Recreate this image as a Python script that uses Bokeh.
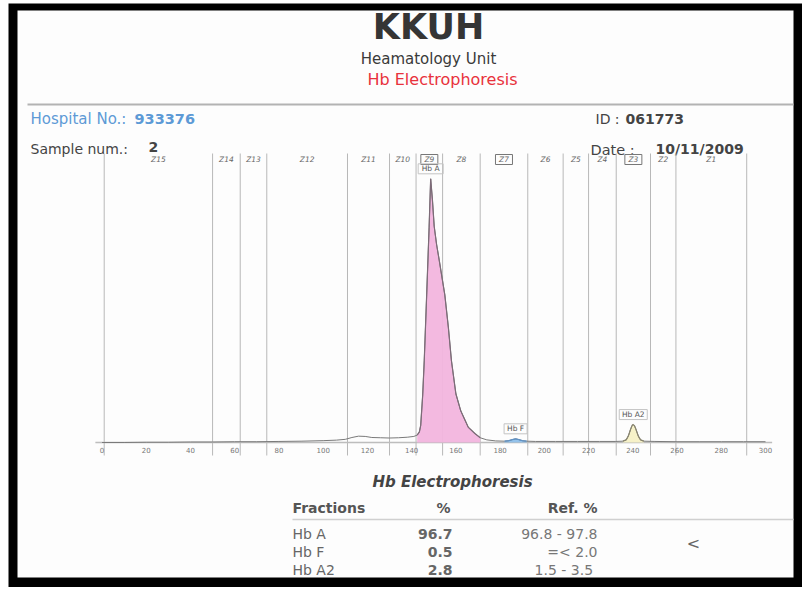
from bokeh.plotting import figure
from bokeh.models import Range1d
from bokeh.embed import file_html
from bokeh.resources import INLINE
from bokeh.core.properties import value

# ---------------- data ----------------
tick_values = list(range(0, 301, 20))
zone_edges = [1, 50, 62.5, 74.5, 111, 130, 142, 154, 171, 192.5, 208.5, 220, 232.5, 248, 259.5, 291.5]
zone_names = ["Z15", "Z14", "Z13", "Z12", "Z11", "Z10", "Z9", "Z8",
              "Z7", "Z6", "Z5", "Z4", "Z3", "Z2", "Z1"]
boxed_zones = ["Z9", "Z7", "Z3"]

trace_x = [0, 10, 20, 30, 40, 50, 60, 70, 80, 90, 100, 106, 110, 113, 116, 119, 122,
           126, 130, 134, 138, 141, 142.5, 143.5, 144.1, 145.0, 145.7, 146.8, 147.9,
           148.6, 149.4, 150.2, 151.3, 152.5, 155.0, 156.6, 158.0, 160.0, 162.2, 165.6,
           168.6, 171.0, 174, 178, 182, 184, 185.5, 187, 188.5, 190, 192, 196, 205, 215,
           225, 232, 235.5, 237, 238, 239, 239.7, 240.2, 240.8, 241.5, 242.5, 243.5, 245,
           250, 260, 270, 280, 290, 300]
trace_y = [0.0, 0.0, 0.1, 0.1, 0.2, 0.2, 0.3, 0.3, 0.4, 0.5, 0.7, 0.9, 1.2, 1.9, 2.4, 2.3, 1.9,
           1.8, 1.7, 1.8, 2.0, 2.3, 2.8, 4.0, 6.5, 18, 31, 56, 81.5,
           100, 92, 82, 75, 69, 56, 43.7, 31, 18.5, 12, 5.8,
           3.4, 1.8, 1.0, 0.6, 0.5, 0.7, 1.1, 1.4, 1.1, 0.7, 0.5, 0.4, 0.4, 0.4,
           0.4, 0.4, 0.5, 1.0, 2.5, 5.0, 6.5, 6.8, 6.3, 4.8, 2.4, 1.0, 0.5,
           0.4, 0.3, 0.3, 0.3, 0.3, 0.3]

peak_names = ["Hb A", "Hb F", "Hb A2"]
peak_x = [148.6, 187, 240.2]
peak_lo = [142.5, 182, 235.5]
peak_hi = [172, 192, 245]
peak_fill = ["#f2b5de", "#8fc0ea", "#f7f1c6"]
peak_line = ["#7d6b78", "#5f93c8", "#8a8670"]

fractions = ["Hb A", "Hb F", "Hb A2"]
percent = ["96.7", "0.5", "2.8"]
ref_range = ["96.8 - 97.8", "=< 2.0", "1.5 -  3.5"]

# ---------------- geometry (page pixels -> data) ----------------
X0_PX, SX = 101.5, 2.2117
Y0_PX, SY = 442.0, 2.637


def px2x(px):
    return (px - X0_PX) / SX


def px2y(py):
    return (Y0_PX - py) / SY


FONT = value("DejaVu Sans")

p = figure(width=802, height=587, output_backend="svg", toolbar_location=None,
           x_axis_type=None, y_axis_type=None, title_location=None,
           min_border_left=8, min_border_right=0, min_border_top=3, min_border_bottom=0,
           x_range=Range1d(px2x(8), px2x(802)),
           y_range=Range1d(px2y(587), px2y(3)))
p.border_fill_color = "white"
p.background_fill_color = "black"
p.outline_line_color = None
p.grid.visible = False

# white page inside the black scan frame
p.quad(left=[px2x(17)], right=[px2x(793)], top=[px2y(10)], bottom=[px2y(577)],
       fill_color="#fdfdfd", line_color=None)


def txt(x, y, t, size, color="#444444", style="normal", align="left"):
    p.text(x=x, y=y, text=t, text_font=FONT, text_font_size=size,
           text_font_style=style, text_color=color, text_align=align,
           text_baseline="middle")


# ---------------- header ----------------
txt([px2x(428)], [px2y(26)], ["KKUH"], "35px", "#353535", "bold", "center")
txt([px2x(428)], [px2y(58)], ["Heamatology Unit"], "15px", "#3a3a3a", "normal", "center")
txt([px2x(442)], [px2y(79)], ["Hb Electrophoresis"], "16px", "#e8323c", "normal", "center")
p.segment(x0=[px2x(27)], y0=[px2y(104)], x1=[px2x(793)], y1=[px2y(104)],
          line_color="#b3b3b3", line_width=2)

txt([px2x(30)], [px2y(118)], ["Hospital No.:"], "15px", "#5d9ad6")
txt([px2x(134)], [px2y(118)], ["933376"], "14.5px", "#5d9ad6", "bold")
txt([px2x(595)], [px2y(118)], ["ID :"], "14px", "#444444")
txt([px2x(625)], [px2y(118)], ["061773"], "14px", "#444444", "bold")
txt([px2x(30)], [px2y(148)], ["Sample num.:"], "14px", "#444444")
txt([px2x(148)], [px2y(146)], ["2"], "14px", "#444444", "bold")
txt([px2x(590)], [px2y(149)], ["Date :"], "14.5px", "#444444")
txt([px2x(655)], [px2y(148)], ["10/11/2009"], "14px", "#444444", "bold")

# ---------------- electropherogram ----------------
n_edges = len(zone_edges)
p.segment(x0=zone_edges, y0=[px2y(455)] * n_edges, x1=zone_edges, y1=[px2y(153)] * n_edges,
          line_color="#b8b8b8", line_width=1)

zone_mid = [(a + b) / 2 for a, b in zip(zone_edges[:-1], zone_edges[1:])]
txt(zone_mid, [px2y(159)] * len(zone_mid), zone_names, "7.5px", "#666666", "italic", "center")
bx = [m for m, z in zip(zone_mid, zone_names) if z in boxed_zones]
p.rect(x=bx, y=[px2y(159)] * len(bx), width=17, height=10,
       width_units="screen", height_units="screen",
       fill_color=None, line_color="#777777", line_width=1)

# axis baseline and tick labels
p.segment(x0=[-3], y0=[0], x1=[303], y1=[0], line_color="#bdbdbd", line_width=1.5)
txt(tick_values, [px2y(449.5)] * len(tick_values), [str(t) for t in tick_values],
    "7px", "#777777", "normal", "center")

# fractions filled
for name, lo, hi, fc, lc in zip(peak_names, peak_lo, peak_hi, peak_fill, peak_line):
    xs = [x for x in trace_x if lo <= x <= hi]
    ys = [y for x, y in zip(trace_x, trace_y) if lo <= x <= hi]
    p.varea(x=xs, y1=[0] * len(xs), y2=ys, fill_color=fc, fill_alpha=0.95)

p.line(trace_x, trace_y, line_color="#7a7a7a", line_width=1)
for name, lo, hi, fc, lc in zip(peak_names, peak_lo, peak_hi, peak_fill, peak_line):
    xs = [x for x in trace_x if lo <= x <= hi]
    ys = [y for x, y in zip(trace_x, trace_y) if lo <= x <= hi]
    p.line(xs, ys, line_color=lc, line_width=1.2)

# peak labels in boxes
peak_top = [max(y for x, y in zip(trace_x, trace_y) if lo <= x <= hi)
            for lo, hi in zip(peak_lo, peak_hi)]
lab_y = [t + 10 / SY for t in peak_top]
txt(peak_x, lab_y, peak_names, "7.5px", "#555555", "normal", "center")
p.rect(x=peak_x, y=lab_y, width=[25, 23, 28], height=10,
       width_units="screen", height_units="screen",
       fill_color=None, line_color="#c4c4c4", line_width=1)

# ---------------- results table ----------------
txt([px2x(452)], [px2y(481)], ["Hb Electrophoresis"], "15px", "#444444", "bold italic", "center")
txt([px2x(292)], [px2y(507)], ["Fractions"], "14px", "#555555", "bold")
txt([px2x(443)], [px2y(507)], ["%"], "14px", "#555555", "bold", "center")
txt([px2x(597)], [px2y(507)], ["Ref. %"], "14px", "#555555", "bold", "right")
p.segment(x0=[px2x(292)], y0=[px2y(519)], x1=[px2x(793)], y1=[px2y(519)],
          line_color="#d0d0d0", line_width=1.5)

row_y = [px2y(533), px2y(551), px2y(569)]
txt([px2x(292)] * 3, row_y, fractions, "14px", "#666666")
txt([px2x(452)] * 3, row_y, percent, "14px", "#666666", "bold", "right")
txt([px2x(597)] * 3, row_y, ref_range, "14px", "#777777", "normal", "right")
txt([px2x(693)], [px2y(543)], ["<"], "16px", "#666666", "normal", "center")

open("out.html", "w").write(file_html(p, INLINE))
